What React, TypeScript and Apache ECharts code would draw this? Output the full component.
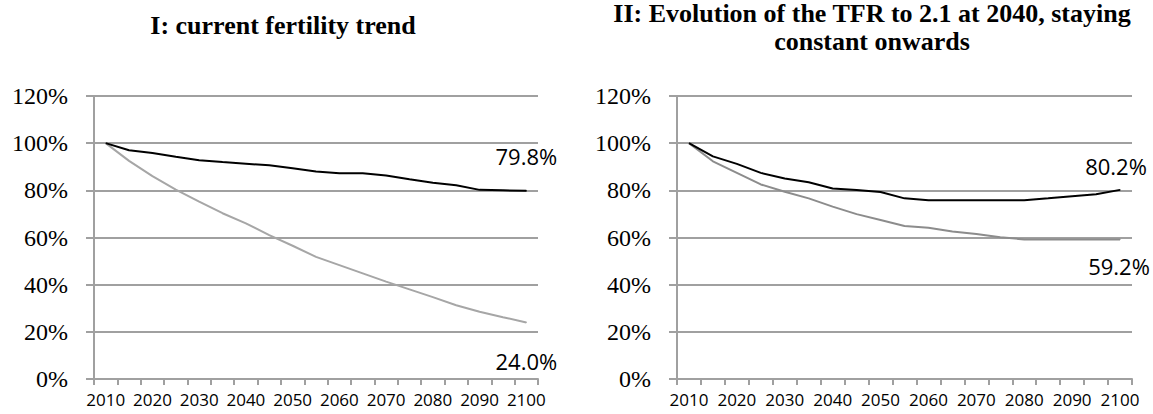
import React, { useEffect, useRef } from "react";
import * as echarts from "echarts";

const years = ["2010", "2015", "2020", "2025", "2030", "2035", "2040", "2045", "2050", "2055", "2060", "2065", "2070", "2075", "2080", "2085", "2090", "2095", "2100"];
const yTicks = [0, 20, 40, 60, 80, 100, 120];

const titleI = "I: current fertility trend";
const titleII = "II: Evolution of the TFR to 2.1 at 2040, staying\nconstant onwards";

// Scenario I (% of 2010 level)
const scenI_dark = [100, 97, 95.8, 94.2, 92.8, 92, 91.3, 90.6, 89.4, 88, 87.2, 87.2, 86.3, 84.7, 83.2, 82.2, 80.2, 80, 79.8];
const scenI_light = [100, 92.5, 86, 80.3, 75.2, 70.3, 66, 61, 56.5, 51.8, 48.3, 44.8, 41.3, 38, 34.7, 31.3, 28.5, 26.2, 24.0];
// Scenario II
const scenII_dark = [100, 94.4, 91.2, 87.4, 85.0, 83.4, 80.8, 80.1, 79.3, 76.6, 75.8, 75.8, 75.8, 75.8, 75.8, 76.6, 77.5, 78.3, 80.2];
const scenII_light = [100, 92.3, 87.4, 82.5, 79.4, 76.6, 73.1, 69.9, 67.4, 64.9, 64.1, 62.5, 61.5, 60.1, 59.2, 59.2, 59.2, 59.2, 59.2];

const GRID = "#a0a0a0";
const SANS = "'Open Sans', 'Liberation Sans', sans-serif";
const SERIF = "'Liberation Serif', 'Times New Roman', serif";

function withEndLabel(values: number[], pos: string, dist: number, dx: number) {
  const last = values.length - 1;
  return values.map((v, i) =>
    i === last
      ? {
          value: v,
          symbol: "circle",
          symbolSize: 1,
          label: {
            show: true,
            position: pos,
            distance: dist,
            offset: [dx, 0],
            formatter: (p: any) => Number(p.value).toFixed(1) + "%",
            fontFamily: SANS,
            fontSize: 22,
            color: "#000",
          },
        }
      : v
  );
}

function xAxisFor(idx: number) {
  return {
    type: "category",
    gridIndex: idx,
    data: years,
    boundaryGap: true,
    axisLine: { show: true, lineStyle: { color: GRID, width: 2 } },
    axisTick: { show: true, interval: 0, length: 6, lineStyle: { color: GRID, width: 2 } },
    axisLabel: { interval: 1, margin: 12, fontFamily: SANS, fontSize: 17, color: "#000" },
    splitLine: { show: false },
  };
}

function yAxisFor(idx: number) {
  return {
    type: "value",
    gridIndex: idx,
    min: yTicks[0],
    max: yTicks[yTicks.length - 1],
    interval: 20,
    axisLine: { show: true, lineStyle: { color: GRID, width: 2 } },
    axisTick: { show: true, length: 8, lineStyle: { color: GRID, width: 2 } },
    axisLabel: { margin: 26, formatter: "{value}%", fontFamily: SERIF, fontSize: 24, color: "#000" },
    splitLine: { show: true, lineStyle: { color: GRID, width: 2 } },
  };
}

function lineSeries(name: string, idx: number, data: any[], color: string) {
  return {
    name,
    type: "line",
    xAxisIndex: idx,
    yAxisIndex: idx,
    data,
    symbol: "none",
    showSymbol: true,
    showAllSymbol: true,
    itemStyle: { color },
    lineStyle: { color, width: 2 },
    emphasis: { disabled: true },
    z: color === "#000000" ? 3 : 2,
  };
}

export default function App() {
  const ref = useRef<HTMLDivElement>(null);
  useEffect(() => {
    if (!ref.current) return;
    const chart = echarts.init(ref.current, undefined, { renderer: "svg" });
    chart.setOption({
      animation: false,
      backgroundColor: "#ffffff",
      grid: [
        { left: 94, top: 96, width: 444, height: 283 },
        { left: 677, top: 96, width: 455, height: 283 },
      ],
      xAxis: [xAxisFor(0), xAxisFor(1)],
      yAxis: [yAxisFor(0), yAxisFor(1)],
      series: [
        lineSeries("Scenario I (light)", 0, withEndLabel(scenI_light, "bottom", 27, 0), "#a6a6a6"),
        lineSeries("Scenario I (dark)", 0, withEndLabel(scenI_dark, "top", 23, 0), "#000000"),
        lineSeries("Scenario II (light)", 1, withEndLabel(scenII_light, "bottom", 15, -1), "#8c8c8c"),
        lineSeries("Scenario II (dark)", 1, withEndLabel(scenII_dark, "top", 12, -4), "#000000"),
      ],
      graphic: [
        {
          type: "text",
          x: 283,
          y: 25,
          style: {
            text: titleI,
            align: "center",
            verticalAlign: "middle",
            fontFamily: SERIF,
            fontWeight: "bold",
            fontSize: 26,
            fill: "#000",
          },
        },
        {
          type: "text",
          x: 872,
          y: 27,
          style: {
            text: titleII,
            align: "center",
            verticalAlign: "middle",
            lineHeight: 28,
            fontFamily: SERIF,
            fontWeight: "bold",
            fontSize: 26,
            fill: "#000",
          },
        },
      ],
    });
    return () => chart.dispose();
  }, []);
  return (
    <div
      ref={ref}
      style={{ position: "fixed", left: 0, top: 0, width: "1153px", height: "414px", background: "#fff" }}
    />
  );
}
